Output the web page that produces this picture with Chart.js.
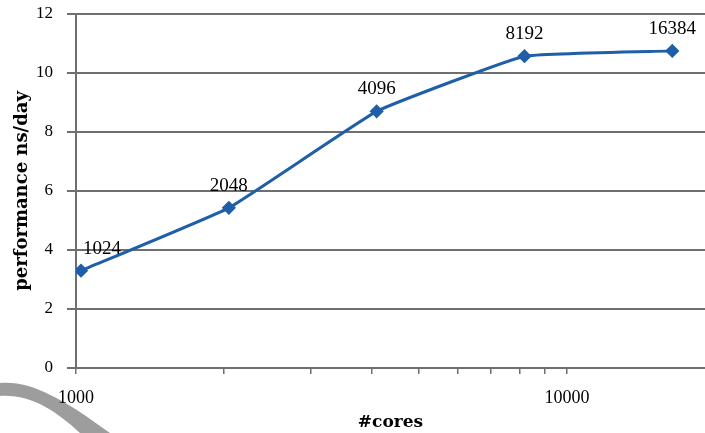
<!DOCTYPE html>
<html>
<head>
<meta charset="utf-8">
<script src="https://cdn.jsdelivr.net/npm/chart.js@4/dist/chart.umd.min.js"></script>
<style>
  body { margin: 0; background: #fff; }
  #wrap { width: 705px; height: 433px; }
</style>
</head>
<body>
<div id="wrap"><canvas id="perfChart" width="705" height="433"></canvas></div>
<script>
// Data
const cores = [1024, 2048, 4096, 8192, 16384];
const perf = [3.3, 5.43, 8.7, 10.57, 10.75];
const pointLabels = ['1024', '2048', '4096', '8192', '16384'];
const xTickValues = [1000, 2000, 3000, 4000, 5000, 6000, 7000, 8000, 9000, 10000];
const xTickLabels = { 1000: '1000', 10000: '10000' };

const serif = "'Liberation Serif', 'DejaVu Serif', serif";
const boldSerif = "'DejaVu Serif', serif";
const gridGrey = '#6f6f6f';
const lineBlue = '#1f5ea8';

// Grey page-curl shape in the bottom-left corner
const curlPlugin = {
    id: 'curl',
    beforeDraw(chart) {
        const ctx = chart.ctx;
        ctx.save();
        ctx.fillStyle = '#9d9d9d';
        ctx.beginPath();
        ctx.moveTo(0, 383);
        ctx.bezierCurveTo(28, 380, 60, 396, 110, 433);
        ctx.lineTo(80, 433);
        ctx.bezierCurveTo(55, 410, 30, 394, 0, 396);
        ctx.closePath();
        ctx.fill();
        ctx.restore();
    }
};

// Labels drawn above each point
const labelPlugin = {
    id: 'pointText',
    afterDatasetsDraw(chart) {
        const ctx = chart.ctx;
        const meta = chart.getDatasetMeta(0);
        ctx.save();
        ctx.font = '19px ' + serif;
        ctx.fillStyle = '#000';
        ctx.textAlign = 'center';
        ctx.textBaseline = 'middle';
        meta.data.forEach((pt, i) => {
            const dx = i === 0 ? 21 : 0;
            ctx.fillText(pointLabels[i], pt.x + dx, pt.y - 22);
        });
        ctx.restore();
    }
};

const ctx = document.getElementById('perfChart').getContext('2d');
const perfChart = new Chart(ctx, {
    type: 'line',
    data: {
        datasets: [{
            data: cores.map((c, i) => ({ x: c, y: perf[i] })),
            borderColor: lineBlue,
            backgroundColor: lineBlue,
            borderWidth: 3,
            pointStyle: 'rectRot',
            pointRadius: 5,
            pointBackgroundColor: lineBlue,
            pointBorderColor: lineBlue,
            tension: 0.1,
            fill: false
        }]
    },
    options: {
        responsive: false,
        animation: false,
        events: [],
        layout: { autoPadding: false, padding: { top: 14, right: 0, left: 0, bottom: 0 } },
        plugins: {
            legend: { display: false },
            tooltip: { enabled: false }
        },
        scales: {
            x: {
                type: 'logarithmic',
                bounds: 'data',
                min: 1000,
                max: 19100,
                afterBuildTicks: scale => {
                    scale.ticks = xTickValues.map(v => ({ value: v }));
                },
                afterFit: scale => {
                    scale.height = 65;
                    scale.paddingLeft = 0;
                    scale.paddingRight = 0;
                },
                grid: {
                    drawOnChartArea: false,
                    color: gridGrey,
                    lineWidth: 1.5,
                    tickLength: 6
                },
                border: { display: false },
                ticks: {
                    autoSkip: false,
                    maxRotation: 0,
                    padding: 13,
                    color: '#000',
                    font: { family: serif, size: 18 },
                    callback: v => xTickLabels[v] || ''
                },
                title: {
                    display: true,
                    text: '#cores',
                    color: '#000',
                    font: { family: boldSerif, size: 17, weight: 'bold' },
                    padding: { top: 0, bottom: 0 }
                }
            },
            y: {
                min: 0,
                max: 12,
                afterFit: scale => {
                    scale.width = 76;
                    scale.paddingTop = 0;
                    scale.paddingBottom = 0;
                },
                grid: {
                    color: gridGrey,
                    lineWidth: 2,
                    tickLength: 9
                },
                border: { display: true, color: gridGrey, width: 2 },
                ticks: {
                    stepSize: 2,
                    padding: 14,
                    color: '#000',
                    font: { family: serif, size: 17 }
                },
                title: {
                    display: true,
                    text: 'performance ns/day',
                    color: '#000',
                    font: { family: boldSerif, size: 18, weight: 'bold' },
                    padding: { top: 12, bottom: 0 }
                }
            }
        }
    },
    plugins: [curlPlugin, labelPlugin]
});
</script>
</body>
</html>
